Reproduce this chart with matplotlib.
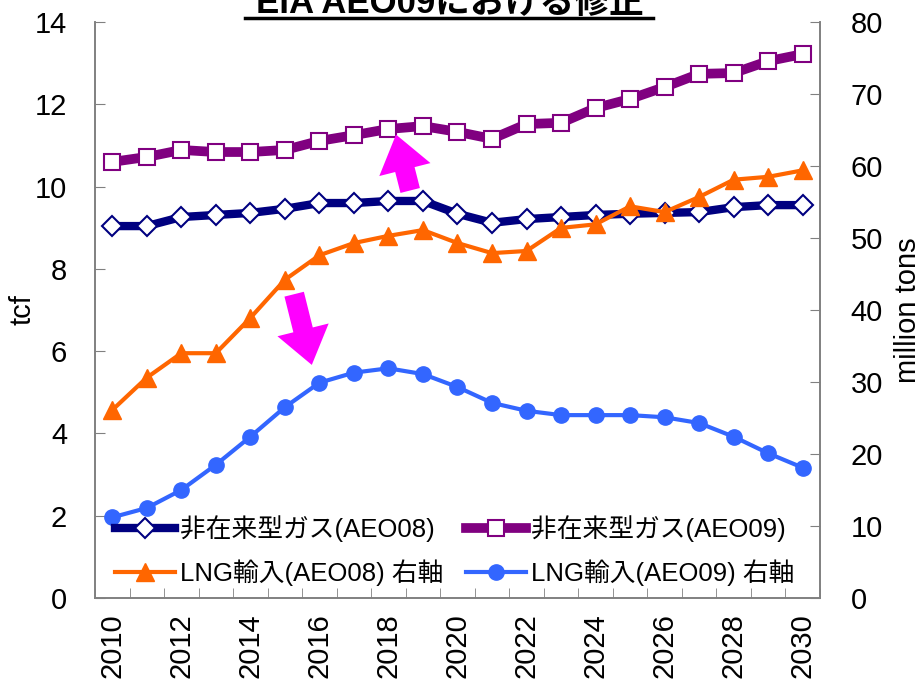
import matplotlib.pyplot as plt
from matplotlib.lines import Line2D
from matplotlib.ticker import MultipleLocator

plt.rcParams["font.family"] = ["Liberation Sans", "Noto Sans CJK JP", "DejaVu Sans"]

years = list(range(2010, 2031))

# unconventional gas production (tcf, left axis)
unconv_aeo08 = [9.04, 9.04, 9.26, 9.31, 9.36, 9.46, 9.60, 9.60, 9.65, 9.65, 9.34,
                9.12, 9.21, 9.26, 9.31, 9.34, 9.36, 9.38, 9.50, 9.55, 9.55]
unconv_aeo09 = [10.60, 10.72, 10.89, 10.84, 10.84, 10.89, 11.11, 11.25, 11.40, 11.47, 11.33,
                11.16, 11.52, 11.55, 11.91, 12.13, 12.42, 12.74, 12.76, 13.05, 13.22]

# LNG imports (million tons, right axis)
lng_aeo08 = [26.1, 30.6, 34.0, 34.0, 38.9, 44.2, 47.6, 49.3, 50.3, 51.1, 49.3,
             47.9, 48.2, 51.4, 51.9, 54.4, 53.6, 55.7, 58.1, 58.5, 59.4]
lng_aeo09 = [11.2, 12.5, 15.0, 18.5, 22.4, 26.5, 29.9, 31.3, 31.9, 31.1, 29.3,
             27.1, 26.0, 25.4, 25.4, 25.4, 25.1, 24.3, 22.4, 20.1, 18.1]

labels = ["非在来型ガス(AEO08)", "非在来型ガス(AEO09)",
          "LNG輸入(AEO08) 右軸", "LNG輸入(AEO09) 右軸"]

FS = 21
spine_gray = "#808080"

fig = plt.figure(figsize=(9.24, 6.86), dpi=100)
ax = fig.add_axes([0.1028, 0.1283, 0.7846, 0.8396])
ax2 = ax.twinx()

h1, = ax.plot(years, unconv_aeo08, color="#000080", lw=6, marker="D", ms=10,
              mfc="white", mec="#000080", mew=1.5, label=labels[0])
h2, = ax.plot(years, unconv_aeo09, color="#800080", lw=7, marker="s", ms=11,
              mfc="white", mec="#800080", mew=1.5, label=labels[1])
h3, = ax2.plot(years, lng_aeo08, color="#FF6600", lw=3, marker="^", ms=13,
               label=labels[2])
h4, = ax2.plot(years, lng_aeo09, color="#3366FF", lw=3, marker="o", ms=11,
               label=labels[3])

ax.set_xlim(2009.5, 2030.5)
ax.set_ylim(0, 14)
ax2.set_ylim(0, 80)
ax.yaxis.set_major_locator(MultipleLocator(2))
ax2.yaxis.set_major_locator(MultipleLocator(10))

ax.set_xticks(years[::2])
ax.set_xticklabels([str(y) for y in years[::2]], rotation=90, fontsize=FS)
ax.set_xticks([y + 0.5 for y in range(2009, 2031)], minor=True)
ax.tick_params(axis="x", which="major", length=0, pad=11)
ax.tick_params(axis="x", which="minor", direction="in", length=7,
               color=spine_gray)
ax.tick_params(axis="y", direction="in", length=7, labelsize=FS, pad=20,
               color=spine_gray)
ax2.tick_params(axis="y", direction="in", length=7, labelsize=FS, pad=22,
                color=spine_gray)

for a in (ax, ax2):
    a.spines["top"].set_visible(False)
    for s in ("left", "right", "bottom"):
        a.spines[s].set_color(spine_gray)
        a.spines[s].set_linewidth(1.2)

ax.set_ylabel("tcf", fontsize=FS)
ax.yaxis.set_label_coords(-0.08, 0.5)
ax2.set_ylabel("million tons", fontsize=FS)
ax2.yaxis.set_label_coords(1.1025, 0.5)

# revision arrows
arrow_style = "simple,head_width=1.9,head_length=1.3,tail_width=0.72"
ax.annotate("", xy=(2018.2, 11.33), xytext=(2018.65, 9.84),
            arrowprops=dict(arrowstyle=arrow_style, color="#FF00FF", lw=0,
                            mutation_scale=20))
ax.annotate("", xy=(2015.8, 5.6), xytext=(2015.25, 7.45),
            arrowprops=dict(arrowstyle=arrow_style, color="#FF00FF", lw=0,
                            mutation_scale=20))

leg = ax2.legend([h1, h3, h2, h4], [labels[0], labels[2], labels[1], labels[3]],
                 ncol=2, loc="lower left", bbox_to_anchor=(0.011, 0.0),
                 frameon=False, fontsize=18.5, handlelength=2.35,
                 handletextpad=0.2, columnspacing=0.87, labelspacing=0.7,
                 borderaxespad=0.05)

fig.text(0.487, 0.995, "EIA AEO09における修正", ha="center", va="center",
         fontsize=25, fontweight="bold")
fig.add_artist(Line2D([245 / 924, 653 / 924], [1 - 18 / 686, 1 - 18 / 686],
                      color="black", lw=2.5))

fig.savefig("out.png", dpi=100)
